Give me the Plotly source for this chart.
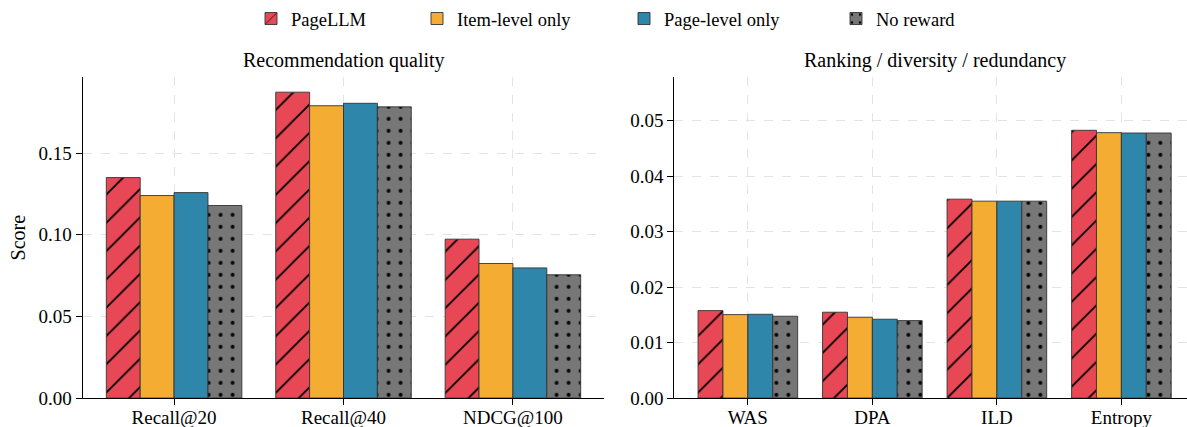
import plotly.graph_objects as go

# ---- data ----
series_names = ["PageLLM", "Item-level only", "Page-level only", "No reward"]
quality_metrics = ["Recall@20", "Recall@40", "NDCG@100"]
ranking_metrics = ["WAS", "DPA", "ILD", "Entropy"]

pagellm_quality = [0.1350, 0.1873, 0.0973]
item_quality = [0.1240, 0.1790, 0.0824]
page_quality = [0.1258, 0.1805, 0.0797]
noreward_quality = [0.1179, 0.1783, 0.0755]

pagellm_ranking = [0.01576, 0.01547, 0.03585, 0.04826]
item_ranking = [0.01504, 0.01457, 0.03549, 0.04784]
page_ranking = [0.01510, 0.01421, 0.03549, 0.04777]
noreward_ranking = [0.01475, 0.01396, 0.03549, 0.04777]

left_ticks = [0.0, 0.05, 0.10, 0.15]
right_ticks = [0.0, 0.01, 0.02, 0.03, 0.04, 0.05]

# ---- styling ----
W, H = 1187, 427
FONT = "Liberation Serif"
colors = ["#E84855", "#F4AC32", "#2E86AB", "#777777"]
patterns = [
    dict(shape="/", fgcolor="black", bgcolor=colors[0], size=20, solidity=0.09, fillmode="replace"),
    dict(shape="", fgcolor="black", bgcolor=colors[1]),
    dict(shape="", fgcolor="black", bgcolor=colors[2]),
    dict(shape=".", fgcolor="black", bgcolor=colors[3], size=12, solidity=0.08, fillmode="replace"),
]
legend_keys = ["legend", "legend2", "legend3", "legend4"]
legend_text_x = [291, 457, 664, 876]
legend_text_offset = [40, 40, 40, 40]

quality_vals = [pagellm_quality, item_quality, page_quality, noreward_quality]
ranking_vals = [pagellm_ranking, item_ranking, page_ranking, noreward_ranking]

fig = go.Figure()
for i, name in enumerate(series_names):
    fig.add_trace(go.Bar(
        x=quality_metrics, y=quality_vals[i], name=name,
        marker=dict(color=colors[i], pattern=patterns[i],
                    line=dict(color="#333333", width=0.9)),
        xaxis="x", yaxis="y", legend=legend_keys[i], showlegend=True,
    ))
for i, name in enumerate(series_names):
    fig.add_trace(go.Bar(
        x=ranking_metrics, y=ranking_vals[i], name=name,
        marker=dict(color=colors[i], pattern=patterns[i],
                    line=dict(color="#333333", width=0.9)),
        xaxis="x2", yaxis="y2", showlegend=False,
    ))

def px_x(p):
    return p / W

def px_y(p):
    return 1 - p / H

y_dom = [px_y(398.0), px_y(76)]
common_axis = dict(
    showline=True, linecolor="black", linewidth=1.2,
    ticks="outside", ticklen=6, tickwidth=1, tickcolor="black",
    showgrid=True, gridcolor="#e3e3e3", griddash="dash", gridwidth=0.8,
    zeroline=False, automargin=False,
    tickfont=dict(family=FONT, size=19, color="black"),
)

layout = dict(
    width=W, height=H,
    margin=dict(l=0, r=0, t=0, b=0),
    paper_bgcolor="white", plot_bgcolor="white",
    barmode="group", bargap=0.2, bargroupgap=0.0,
    font=dict(family=FONT, color="black"),
    xaxis=dict(domain=[px_x(82.6), px_x(604.4)], range=[-0.54, 2.54], anchor="y",
               ticklabelstandoff=-4, **common_axis),
    yaxis=dict(domain=y_dom, range=[0, 0.1967], anchor="x", tickvals=left_ticks,
               tickformat=".2f", **common_axis),
    xaxis2=dict(domain=[px_x(674.4), 1.0], range=[-0.59, 3.527], anchor="y2",
                ticklabelstandoff=-4, **common_axis),
    yaxis2=dict(domain=y_dom, range=[0, 0.0579], anchor="x2", tickvals=right_ticks,
                tickformat=".2f", **common_axis),
    annotations=[
        dict(text="Recommendation quality", x=px_x(343.5), y=px_y(60), xref="paper", yref="paper",
             showarrow=False, xanchor="center", yanchor="middle", font=dict(family=FONT, size=20)),
        dict(text="Ranking / diversity / redundancy", x=px_x(935), y=px_y(60), xref="paper", yref="paper",
             showarrow=False, xanchor="center", yanchor="middle", font=dict(family=FONT, size=20)),
        dict(text="Score", x=px_x(18), y=px_y(237), xref="paper", yref="paper", textangle=-90,
             showarrow=False, xanchor="center", yanchor="middle", font=dict(family=FONT, size=20)),
    ],
)
for key, tx, off in zip(legend_keys, legend_text_x, legend_text_offset):
    layout[key] = dict(x=px_x(tx - off), y=px_y(18), xanchor="left", yanchor="middle",
                       orientation="h", bgcolor="rgba(0,0,0,0)",
                       font=dict(family=FONT, size=18.5, color="black"))
fig.update_layout(**layout)

fig.write_html("out.html", config={"displayModeBar": False},
               post_script="document.body.style.margin='0px';")
